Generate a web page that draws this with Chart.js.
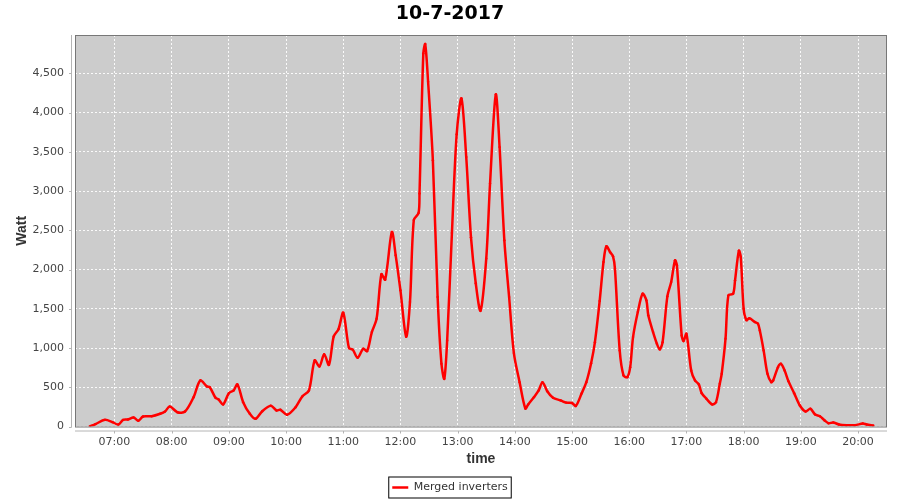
<!DOCTYPE html>
<html>
<head>
<meta charset="utf-8">
<script src="https://cdn.jsdelivr.net/npm/chart.js@4.4.1/dist/chart.umd.min.js"></script>
<style>
  html, body { margin: 0; padding: 0; background: #ffffff; }
  #wrap { width: 900px; height: 500px; }
</style>
</head>
<body>
<div id="wrap"><canvas id="powerChart" width="900" height="500"></canvas></div>
<script>
// minutes since midnight
const timeMinutes = [394, 400, 410, 418, 424, 429, 434, 440, 445, 450, 459, 468, 473, 478, 486, 494,
    503, 510, 517, 520, 526, 529, 534, 540, 545, 549, 555, 562, 568, 575, 584, 590, 594, 601, 610,
    617, 624, 630, 635, 640, 645, 650, 655, 660, 666, 670, 675, 681, 685, 690, 695, 700, 704, 711,
    715, 720, 726, 730, 734, 739, 740, 744, 746, 749, 754, 759, 763, 766, 769, 774, 779, 784, 789,
    794, 799, 804, 810, 814, 820, 824, 829, 834, 839, 845, 851, 854, 860, 865, 869, 874, 880, 888,
    894, 900, 904, 910, 915, 920, 924, 929, 933, 936, 940, 943, 945, 950, 954, 958, 961, 964, 969,
    974, 978, 980, 985, 989, 992, 995, 1000, 1004, 1008, 1010, 1015, 1017, 1020, 1025, 1029, 1033,
    1036, 1041, 1047, 1051, 1055, 1057, 1061, 1064, 1069, 1071, 1075, 1077, 1080, 1083, 1086, 1092,
    1095, 1097, 1101, 1105, 1109, 1111, 1116, 1119, 1123, 1127, 1133, 1139, 1145, 1150, 1155, 1160,
    1165, 1169, 1174, 1180, 1188, 1197, 1205, 1209, 1216];

const watts = [0, 30, 85, 55, 25, 85, 90, 115, 73, 128, 131, 162, 190, 255, 182, 191,
    374, 587, 510, 501, 366, 348, 281, 425, 459, 536, 310, 162, 98, 195, 264, 204, 213, 150, 246,
    383, 459, 842, 765, 920, 785, 1148, 1240, 1450, 1000, 978, 876, 991, 960, 1203, 1374, 1940, 1871, 2478,
    2181, 1735, 1145, 1586, 2630, 2720, 2970, 4754, 4872, 4392, 3393, 1649, 800, 608, 1097, 2466, 3724, 4180, 3435,
    2410, 1825, 1475, 2139, 3096, 4230, 3560, 2372, 1649, 935, 565, 230, 281, 374, 459, 565, 450, 366, 332,
    304, 300, 262, 420, 565, 805, 1075, 1600, 2096, 2296, 2220, 2168, 2011, 969, 650, 629, 756, 1139, 1458,
    1692, 1607, 1416, 1203, 1055, 982, 1075, 1658, 1841, 2117, 2054, 1161, 1088, 1182, 714, 587, 536,
    425, 353, 281, 310, 545, 672, 1119, 1671, 1692, 1862, 2240, 2160, 1501, 1355, 1378, 1330,
    1310, 1224, 969, 672, 565, 587, 756, 800, 714, 578, 425, 268, 191, 226, 153, 131,
    77, 42, 51, 26, 17, 17, 38, 26, 13];

const hourTicks = [420, 480, 540, 600, 660, 720, 780, 840, 900, 960, 1020, 1080, 1140, 1200];
const wattTicks = [0, 500, 1000, 1500, 2000, 2500, 3000, 3500, 4000, 4500];

const seriesName = 'Merged inverters';
const chartTitle = '10-7-2017';

function fmtTime(m) {
    const h = Math.floor(m / 60);
    const mm = m % 60;
    return String(h).padStart(2, '0') + ':' + String(mm).padStart(2, '0');
}

// grey plot background, dark border, offset axis lines, legend frame
const plotDecor = {
    id: 'plotDecor',
    beforeDraw(chart) {
        const { ctx, chartArea: a } = chart;
        ctx.save();
        ctx.fillStyle = '#cccccc';
        ctx.fillRect(a.left, a.top, a.right - a.left, a.bottom - a.top);
        ctx.restore();
    },
    afterDraw(chart) {
        const { ctx, chartArea: a, scales } = chart;
        ctx.save();
        ctx.strokeStyle = '#777777';
        ctx.lineWidth = 1;
        ctx.strokeRect(a.left + 0.5, a.top + 0.5, a.right - a.left - 1, a.bottom - a.top);

        // axis lines sit a few px away from the plot
        ctx.strokeStyle = '#b4b4b4';
        ctx.beginPath();
        ctx.moveTo(a.left - 3.5, a.top);
        ctx.lineTo(a.left - 3.5, a.bottom + 1);
        ctx.moveTo(a.left, a.bottom + 4.5);
        ctx.lineTo(a.right, a.bottom + 4.5);
        wattTicks.forEach(v => {
            const y = Math.round(scales.y.getPixelForValue(v)) + 0.5;
            ctx.moveTo(a.left - 6, y);
            ctx.lineTo(a.left - 3.5, y);
        });
        hourTicks.forEach(v => {
            const x = Math.round(scales.x.getPixelForValue(v)) + 0.5;
            ctx.moveTo(x, a.bottom + 4.5);
            ctx.lineTo(x, a.bottom + 7);
        });
        ctx.stroke();

        const box = chart.legend.legendHitBoxes[0];
        if (box) {
            ctx.strokeStyle = '#000000';
            ctx.strokeRect(box.left - 3.5, box.top + box.height / 2 - 10.5, box.width + 7, 21);
        }
        ctx.restore();
    }
};

const canvas = document.getElementById('powerChart');
new Chart(canvas, {
    type: 'line',
    data: {
        datasets: [{
            label: seriesName,
            data: timeMinutes.map((t, i) => ({ x: t, y: watts[i] })),
            borderColor: '#ff0000',
            backgroundColor: '#ff0000',
            borderWidth: 2.5,
            pointRadius: 1.2,
            pointBorderWidth: 0,
            pointBackgroundColor: '#ff0000',
            tension: 0.3,
            fill: false
        }]
    },
    options: {
        responsive: false,
        animation: false,
        layout: { padding: { left: 13, right: 13, top: 0, bottom: -3 } },
        plugins: {
            title: {
                display: true,
                text: chartTitle,
                color: '#000000',
                font: { family: 'DejaVu Sans', size: 19, weight: 'bold' },
                padding: { top: 3, bottom: 9.2 }
            },
            legend: {
                position: 'bottom',
                labels: {
                    color: '#333333',
                    font: { family: 'DejaVu Sans', size: 11 },
                    padding: 8,
                    usePointStyle: true,
                    pointStyle: 'line',
                    pointStyleWidth: 16,
                    generateLabels: chart => {
                        const items = Chart.defaults.plugins.legend.labels.generateLabels(chart);
                        return items.map(it => Object.assign(it, {
                            strokeStyle: '#ff0000',
                            fillStyle: '#ff0000',
                            lineWidth: 2.5,
                            pointStyle: 'line'
                        }));
                    }
                }
            },
            tooltip: { enabled: false }
        },
        scales: {
            x: {
                type: 'linear',
                min: 378.6,
                max: 1230.4,
                afterBuildTicks: scale => { scale.ticks = hourTicks.map(v => ({ value: v })); },
                afterFit: scale => { scale.height = 47.5; },
                ticks: {
                    color: '#444444',
                    font: { family: 'DejaVu Sans', size: 11 },
                    padding: 9,
                    maxRotation: 0,
                    autoSkip: false,
                    callback: v => fmtTime(v)
                },
                grid: { color: 'rgba(255,255,255,0.9)', lineWidth: 1, drawTicks: false },
                border: { display: false, dash: [2, 2] },
                title: {
                    display: true,
                    text: 'time',
                    color: '#333333',
                    font: { family: 'Liberation Sans', size: 14, weight: 'bold' },
                    padding: { top: 0, bottom: 6 }
                }
            },
            y: {
                min: 0,
                max: 4988,
                afterBuildTicks: scale => { scale.ticks = wattTicks.map(v => ({ value: v })); },
                afterFit: scale => { scale.width = 62; },
                ticks: {
                    color: '#444444',
                    font: { family: 'DejaVu Sans', size: 11 },
                    padding: 11,
                    callback: v => v.toLocaleString('en-US')
                },
                grid: { color: 'rgba(255,255,255,0.9)', lineWidth: 1, drawTicks: false },
                border: { display: false, dash: [2, 2] },
                title: {
                    display: true,
                    text: 'Watt',
                    color: '#333333',
                    font: { family: 'Liberation Sans', size: 14, weight: 'bold' },
                    padding: { top: 1, bottom: 0 }
                }
            }
        }
    },
    plugins: [plotDecor]
});
</script>
</body>
</html>
